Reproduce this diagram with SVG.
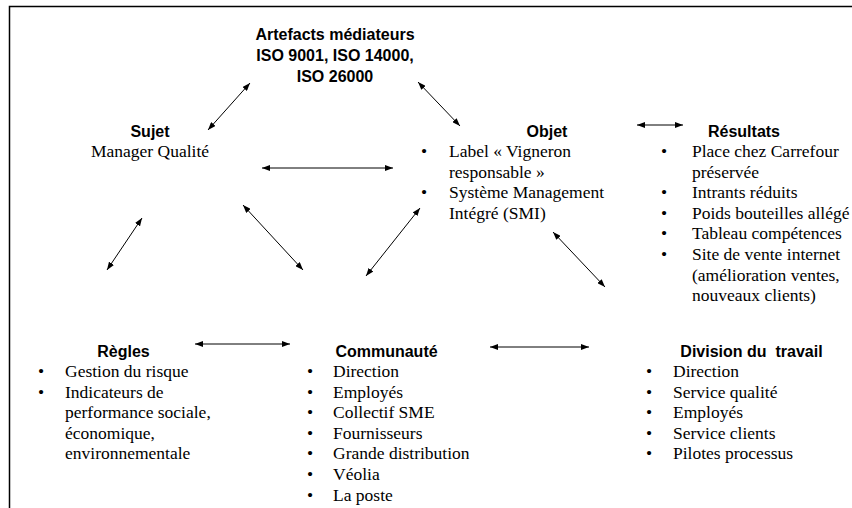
<svg xmlns="http://www.w3.org/2000/svg" width="852" height="508" viewBox="0 0 852 508">
<style>
.h{font-family:"Liberation Sans",Arial,sans-serif;font-weight:bold;font-size:16px;fill:#000;text-anchor:middle}
.t{font-family:"Liberation Serif","Times New Roman",serif;font-size:17.5px;fill:#000}
.c{stroke:#000;stroke-width:1;fill:none;marker-start:url(#ah);marker-end:url(#ah)}
</style>
<defs>
<marker id="ah" viewBox="0 0 8 6" refX="8" refY="3" markerWidth="8" markerHeight="6" markerUnits="userSpaceOnUse" orient="auto-start-reverse">
<path d="M0,0 L8,3 L0,6 z" fill="#000"/>
</marker>
</defs>
<rect width="852" height="508" fill="#fff"/>
<g id="frame"><path d="M9.5,508 V6.5 H852" stroke="#000" stroke-width="1.5" fill="none"/></g>
<g id="artefacts">
<text class="h" x="335" y="40">Artefacts médiateurs</text>
<text class="h" x="335" y="61">ISO 9001, ISO 14000,</text>
<text class="h" x="335" y="82">ISO 26000</text>
</g>
<g id="sujet">
<text class="h" x="150" y="137">Sujet</text>
<text class="t" x="150" y="157" text-anchor="middle">Manager Qualité</text>
</g>
<g id="objet">
<text class="h" x="547" y="137">Objet</text>
<text class="t" x="421" y="157">•</text><text class="t" x="449" y="157">Label « Vigneron</text>
<text class="t" x="449" y="177.6">responsable »</text>
<text class="t" x="421" y="198.2">•</text><text class="t" x="449" y="198.2">Système Management</text>
<text class="t" x="449" y="218.8">Intégré (SMI)</text>
</g>
<g id="resultats">
<text class="h" x="744" y="137">Résultats</text>
<text class="t" x="661" y="157">•</text><text class="t" x="692" y="157">Place chez Carrefour</text>
<text class="t" x="692" y="177.6">préservée</text>
<text class="t" x="661" y="198.2">•</text><text class="t" x="692" y="198.2">Intrants réduits</text>
<text class="t" x="661" y="218.8">•</text><text class="t" x="692" y="218.8">Poids bouteilles allégé</text>
<text class="t" x="661" y="239.4">•</text><text class="t" x="692" y="239.4">Tableau compétences</text>
<text class="t" x="661" y="260">•</text><text class="t" x="692" y="260">Site de vente internet</text>
<text class="t" x="692" y="280.6">(amélioration ventes,</text>
<text class="t" x="692" y="301.2">nouveaux clients)</text>
</g>
<g id="regles">
<text class="h" x="123.5" y="357">Règles</text>
<text class="t" x="38" y="377">•</text><text class="t" x="65" y="377">Gestion du risque</text>
<text class="t" x="38" y="397.6">•</text><text class="t" x="65" y="397.6">Indicateurs de</text>
<text class="t" x="65" y="418.2">performance sociale,</text>
<text class="t" x="65" y="438.8">économique,</text>
<text class="t" x="65" y="459.4">environnementale</text>
</g>
<g id="communaute">
<text class="h" x="386.5" y="357">Communauté</text>
<text class="t" x="307" y="377">•</text><text class="t" x="333" y="377">Direction</text>
<text class="t" x="307" y="397.6">•</text><text class="t" x="333" y="397.6">Employés</text>
<text class="t" x="307" y="418.2">•</text><text class="t" x="333" y="418.2">Collectif SME</text>
<text class="t" x="307" y="438.8">•</text><text class="t" x="333" y="438.8">Fournisseurs</text>
<text class="t" x="307" y="459.4">•</text><text class="t" x="333" y="459.4">Grande distribution</text>
<text class="t" x="307" y="480">•</text><text class="t" x="333" y="480">Véolia</text>
<text class="t" x="307" y="500.6">•</text><text class="t" x="333" y="500.6">La poste</text>
</g>
<g id="division">
<text class="h" x="751.5" y="357" xml:space="preserve">Division du  travail</text>
<text class="t" x="646" y="377">•</text><text class="t" x="673" y="377">Direction</text>
<text class="t" x="646" y="397.6">•</text><text class="t" x="673" y="397.6">Service qualité</text>
<text class="t" x="646" y="418.2">•</text><text class="t" x="673" y="418.2">Employés</text>
<text class="t" x="646" y="438.8">•</text><text class="t" x="673" y="438.8">Service clients</text>
<text class="t" x="646" y="459.4">•</text><text class="t" x="673" y="459.4">Pilotes processus</text>
</g>
<g id="connectors">
<line class="c" x1="250" y1="83" x2="208" y2="130"/>
<line class="c" x1="418" y1="82" x2="460" y2="126"/>
<line class="c" x1="262" y1="168" x2="393" y2="168"/>
<line class="c" x1="637" y1="125" x2="683" y2="125"/>
<line class="c" x1="142" y1="218" x2="107" y2="270"/>
<line class="c" x1="243" y1="205" x2="303" y2="270"/>
<line class="c" x1="420" y1="208" x2="366" y2="276"/>
<line class="c" x1="553" y1="232" x2="605" y2="287"/>
<line class="c" x1="195" y1="344" x2="290" y2="344"/>
<line class="c" x1="490" y1="347" x2="589" y2="347"/>
</g>
</svg>
